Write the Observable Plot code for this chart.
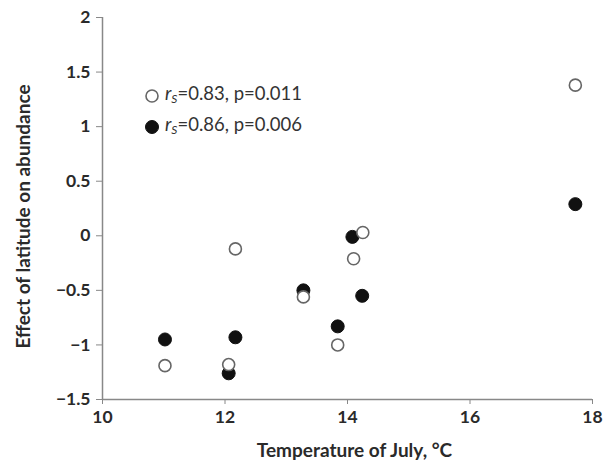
<!DOCTYPE html>
<html>
<head>
<meta charset="utf-8">
<script src="https://cdn.jsdelivr.net/npm/d3@7"></script>
<script src="https://cdn.jsdelivr.net/npm/@observablehq/plot@0.6"></script>
<style>
  html, body { margin: 0; padding: 0; background: #fff; }
  #wrap { position: relative; width: 614px; height: 468px; }
  #legend { position: absolute; left: 144px; top: 80px; font-family: Lato, "Open Sans", sans-serif; font-size: 18.5px; color: #333; line-height: 31px; }
  #legend .row { display: flex; align-items: center; height: 31px; }
  #legend svg { margin-right: 5px; }
  #legend sub { font-size: 12px; vertical-align: -3px; }
</style>
</head>
<body>
<div id="wrap">
  <div id="chart"></div>
  <div id="legend"></div>
</div>
<script>
const temperature = [11.02, 12.06, 12.17, 13.28, 13.84, 14.10, 14.25, 17.72];
const openValues  = [-1.19, -1.18, -0.12, -0.56, -1.00, -0.21, 0.03, 1.38];
const filledTemp  = [11.02, 12.06, 12.17, 13.28, 13.84, 14.08, 14.24, 17.72];
const filledValues = [-0.95, -1.26, -0.93, -0.50, -0.83, -0.01, -0.55, 0.29];
const xTicks = [10, 12, 14, 16, 18];
const yTicks = [-1.5, -1, -0.5, 0, 0.5, 1, 1.5, 2];
const legendLabels = [
  {r: "0.83", p: "0.011", filled: false},
  {r: "0.86", p: "0.006", filled: true}
];

const openData = temperature.map((t, i) => ({t, v: openValues[i]}));
const filledData = filledTemp.map((t, i) => ({t, v: filledValues[i]}));

const fmt = d => (d < 0 ? "\u2212" : "") + String(Math.abs(d));

const chart = Plot.plot({
  width: 614,
  height: 468,
  marginLeft: 102,
  marginRight: 22,
  marginTop: 17,
  marginBottom: 69,
  style: {fontFamily: "Lato, 'Open Sans', sans-serif", fontSize: "17.5px", fontWeight: "bold", color: "#2a2a2a", background: "#fff"},
  x: {domain: [10, 18], ticks: xTicks},
  y: {domain: [-1.5, 2], ticks: yTicks},
  marks: [
    Plot.axisX({ticks: xTicks, tickSize: 5, tickPadding: 6, tickFormat: fmt, stroke: "#888", label: null}),
    Plot.axisY({ticks: yTicks, tickSize: 6, tickPadding: 6, tickFormat: fmt, stroke: "#888", label: null}),
    Plot.ruleY([-1.5], {stroke: "#888", strokeWidth: 1.5}),
    Plot.ruleX([10], {stroke: "#888", strokeWidth: 1.5}),
    Plot.text(["Temperature of July, °C"], {frameAnchor: "bottom", dx: 7, dy: 57, fontSize: 19, fontWeight: "bold", fill: "#2a2a2a"}),
    Plot.text(["Effect of latitude on abundance"], {frameAnchor: "left", textAnchor: "middle", dx: -79, dy: 8, rotate: -90, fontSize: 19, fontWeight: "bold", fill: "#2a2a2a"}),
    Plot.dot(filledData, {x: "t", y: "v", r: 6.5, fill: "#111", stroke: "#111", strokeWidth: 1}),
    Plot.dot(openData, {x: "t", y: "v", r: 6, fill: "#fff", stroke: "#666", strokeWidth: 1.6})
  ]
});
document.getElementById("chart").appendChild(chart);

const legend = document.getElementById("legend");
legendLabels.forEach(d => {
  const row = document.createElement("div");
  row.className = "row";
  row.innerHTML = `<svg width="16" height="16"><circle cx="8" cy="8" r="${d.filled ? 6.5 : 6}" fill="${d.filled ? "#111" : "#fff"}" stroke="${d.filled ? "#111" : "#666"}" stroke-width="${d.filled ? 1 : 1.6}"/></svg><span><i>r<sub>S</sub></i>=${d.r}, p=${d.p}</span>`;
  legend.appendChild(row);
});
</script>
</body>
</html>
